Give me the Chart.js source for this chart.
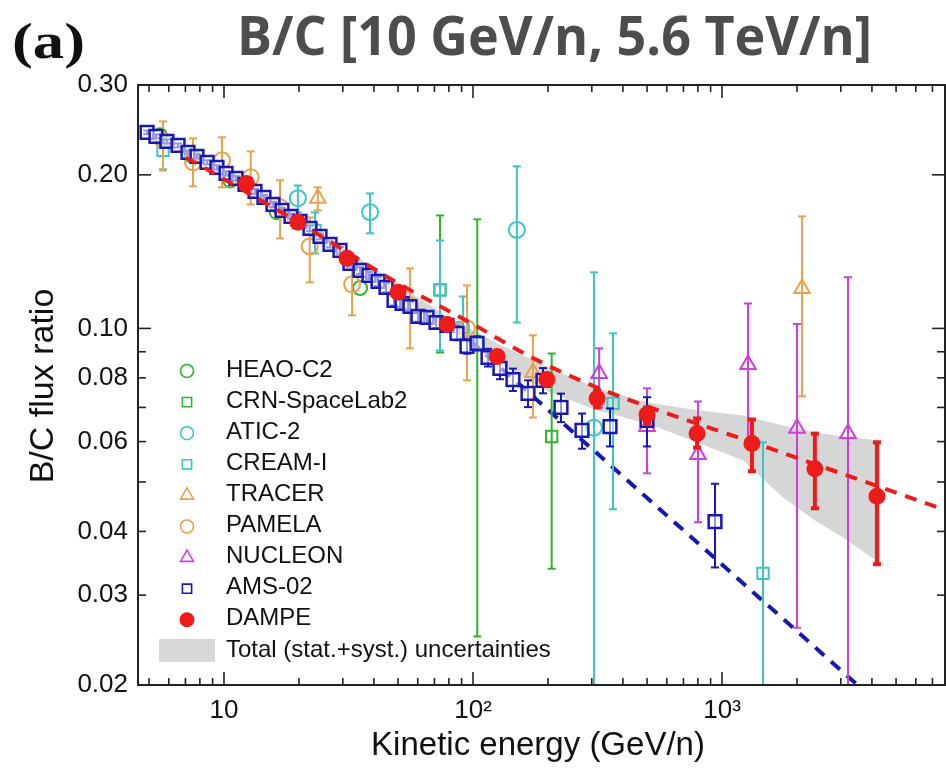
<!DOCTYPE html>
<html lang="en">
<head>
<meta charset="UTF-8" />
<title>B/C flux ratio</title>
<script src="https://cdn.jsdelivr.net/npm/chart.js"></script>
<style>
  body { margin: 0; background: #fff; }
  #wrap { width: 946px; height: 768px; position: relative; }
</style>
</head>
<body>
<div id="wrap"><canvas id="bcChart"></canvas></div>
<script>
  // ---- data (kinetic energy in GeV/n, B/C ratio) ----
  const heaoE = [5.53, 7.44, 10.6, 16.3, 35.2];
  const heaoV = [0.239, 0.218, 0.195, 0.169, 0.120];

  const crnE  = [73.7, 104, 207];
  const crnV  = [0.119, 0.0935, 0.0614];
  const crnLo = [0.0897, 0.0249, 0.0338];
  const crnHi = [0.1665, 0.1636, 0.0893];

  const aticE  = [19.8, 38.6, 150, 306];
  const aticV  = [0.180, 0.169, 0.156, 0.0639];
  const aticLo = [0.1688, 0.1536, 0.1027, 0.005];
  const aticHi = [0.1906, 0.1839, 0.2078, 0.1288];

  const creamE  = [5.69, 23.2, 73.7, 91.2, 365, 1461];
  const creamV  = [0.2234, 0.1557, 0.119, 0.1005, 0.0713, 0.0331];
  const creamLo = [0.205, 0.1403, 0.0905, 0.096, 0.0442, 0.005];
  const creamHi = [0.2335, 0.1688, 0.1487, 0.1155, 0.0978, 0.0598];

  const tracerE  = [23.8, 174, 2096];
  const tracerV  = [0.180, 0.082, 0.1198];
  const tracerLo = [0.1703, 0.0669, 0.0736];
  const tracerHi = [0.189, 0.0969, 0.1658];

  const pamelaE  = [5.69, 7.51, 9.82, 12.8, 16.8, 22.1, 32.7, 55.8, 94.6];
  const pamelaV  = [0.2336, 0.2116, 0.2135, 0.1978, 0.1727, 0.1448, 0.122, 0.111, 0.100];
  const pamelaLo = [0.204, 0.1899, 0.189, 0.175, 0.1501, 0.1231, 0.1061, 0.0914, 0.0791];
  const pamelaHi = [0.2545, 0.2358, 0.2369, 0.2224, 0.1951, 0.165, 0.1378, 0.1311, 0.1214];

  const nucleonE  = [321, 500, 801, 1272, 2001, 3206];
  const nucleonV  = [0.0816, 0.0642, 0.0566, 0.085, 0.0637, 0.0622];
  const nucleonLo = [0.070, 0.052, 0.0417, 0.0603, 0.0259, 0.005];
  const nucleonHi = [0.0914, 0.0763, 0.0719, 0.1119, 0.102, 0.126];

  const amsE = [4.91, 5.33, 5.90, 6.54, 7.17, 7.79, 8.55, 9.37, 10.19, 11.17, 12.14, 13.32,
    14.47, 15.73, 17.10, 18.58, 20.19, 22.15, 24.30, 26.65, 29.23, 32.06, 35.17, 38.22,
    41.55, 44.74, 48.17, 51.87, 55.85, 60.13, 65.36, 71.03, 78.63, 86.24, 94.60, 103.8,
    114.9, 128.3, 144.7, 166.3, 191.0, 225.6, 274.0, 355.0, 499.8, 937.4];
  const amsV = [0.2423, 0.2379, 0.2326, 0.2284, 0.2213, 0.2174, 0.2116, 0.2068, 0.2013, 0.1968,
    0.1916, 0.1856, 0.1806, 0.1750, 0.1703, 0.1658, 0.1621, 0.1571, 0.1515, 0.1461, 0.1422,
    0.1341, 0.1299, 0.1270, 0.1237, 0.1203, 0.1135, 0.1119, 0.1104, 0.1056, 0.1051, 0.1027,
    0.1014, 0.0978, 0.0922, 0.0935, 0.0877, 0.0835, 0.0794, 0.0746, 0.0791, 0.0700, 0.0631,
    0.0642, 0.0660, 0.0418];
  const amsErr = [0.002, 0.002, 0.002, 0.002, 0.002, 0.002, 0.002, 0.002, 0.002, 0.002, 0.002, 0.002,
    0.002, 0.002, 0.002, 0.002, 0.002, 0.002, 0.002, 0.002, 0.002, 0.002, 0.002, 0.002,
    0.0025, 0.0025, 0.0025, 0.0025, 0.0025, 0.0025, 0.0025, 0.0025, 0.003, 0.003, 0.003, 0.003,
    0.0035, 0.004, 0.004, 0.0045, 0.0045, 0.0045, 0.005, 0.0055, 0.0073, 0.0078];

  const dampeE  = [12.3, 19.8, 31.2, 50, 78.7, 125, 198, 315, 500, 794, 1319, 2360, 4190];
  const dampeV  = [0.1924, 0.1614, 0.1372, 0.1177, 0.1018, 0.0881, 0.0794, 0.0729, 0.0678, 0.0622, 0.0595, 0.0531, 0.0469];
  const dampeLo = [0.189, 0.159, 0.135, 0.1158, 0.100, 0.0865, 0.0775, 0.070, 0.065, 0.0584, 0.0525, 0.0444, 0.0345];
  const dampeHi = [0.196, 0.164, 0.1395, 0.1196, 0.1036, 0.0897, 0.0813, 0.0756, 0.070, 0.0666, 0.0663, 0.0622, 0.0598];

  // grey band: total (stat.+syst.) uncertainties
  const bandE  = [10.8, 19.8, 31.2, 50, 78.6, 125, 204, 315, 500, 794, 1214, 1758, 2363, 3062, 4311];
  const bandHi = [0.2059, 0.1665, 0.1422, 0.1220, 0.1056, 0.0935, 0.0835, 0.0763, 0.0716, 0.0691, 0.0675, 0.0645, 0.0625, 0.0614, 0.0603];
  const bandLo = [0.1951, 0.1585, 0.1347, 0.1155, 0.1000, 0.0858, 0.0749, 0.0691, 0.0651, 0.0598, 0.0551, 0.0466, 0.0420, 0.0389, 0.0346];

  // dashed fit lines
  const redE  = [7.04, 20.2, 50.9, 97.3, 169.4, 315, 1559, 7935];
  const redV  = [0.2164, 0.1607, 0.1220, 0.1027, 0.0881, 0.0766, 0.0582, 0.0440];
  const blueE = [97.3, 3500];
  const blueV = [0.0947, 0.0200];

  // axes
  const xTickVals = [10, 100, 1000];
  const xTickText = ['10', '10²', '10³'];
  const yTickVals = [0.02, 0.03, 0.04, 0.06, 0.08, 0.10, 0.20, 0.30];
  const yMinorVals = [0.05, 0.07, 0.09];

  const legendNames = ['HEAO-C2', 'CRN-SpaceLab2', 'ATIC-2', 'CREAM-I', 'TRACER', 'PAMELA',
    'NUCLEON', 'AMS-02', 'DAMPE', 'Total (stat.+syst.) uncertainties'];

  const sans = '"Liberation Sans", Arial, sans-serif';
  const green = '#2db52d', cyan = '#3dc3c3', orange = '#e8a24e', magenta = '#d33ddb',
        blue = '#1818b4', red = '#ee1b1b';

  const pts = (E, V) => E.map((e, i) => ({ x: e, y: V[i] }));

  function marker(label, E, V, lo, hi, color, style, r, order, extra) {
    return Object.assign({
      label, data: pts(E, V), errLo: lo, errHi: hi,
      borderColor: color, pointBorderColor: color,
      pointBackgroundColor: 'rgba(255,255,255,0)', pointStyle: style,
      pointRadius: r, pointBorderWidth: 2, showLine: false, barWidth: 2, order
    }, extra || {});
  }

  const amsLo = amsV.map((v, i) => v - amsErr[i]);
  const amsHi = amsV.map((v, i) => v + amsErr[i]);

  const datasets = [
    { label: 'band-hi', data: pts(bandE, bandHi), showLine: true, pointRadius: 0, borderWidth: 0,
      backgroundColor: 'rgba(196,196,196,0.7)', fill: '+1', order: 30 },
    { label: 'band-lo', data: pts(bandE, bandLo), showLine: true, pointRadius: 0, borderWidth: 0, fill: false, order: 30 },
    { label: 'blue-fit', data: pts(blueE, blueV), showLine: true, pointRadius: 0, borderColor: blue,
      borderWidth: 4, borderDash: [12, 9], fill: false, order: 25 },
    marker('HEAO-C2', heaoE, heaoV, null, null, green, 'circle', 7, 12),
    marker('CRN-SpaceLab2', crnE, crnV, crnLo, crnHi, green, 'rect', 8, 12),
    marker('ATIC-2', aticE, aticV, aticLo, aticHi, cyan, 'circle', 8, 11),
    marker('CREAM-I', creamE, creamV, creamLo, creamHi, cyan, 'rect', 8, 11),
    marker('TRACER', tracerE, tracerV, tracerLo, tracerHi, orange, 'triangle', 9, 10),
    marker('PAMELA', pamelaE, pamelaV, pamelaLo, pamelaHi, orange, 'circle', 8, 10),
    marker('NUCLEON', nucleonE, nucleonV, nucleonLo, nucleonHi, magenta, 'triangle', 9, 9),
    marker('AMS-02', amsE, amsV, amsLo, amsHi, blue, 'rect', 9, 6,
      { pointBackgroundColor: 'rgba(255,255,255,0.55)', pointBorderWidth: 2.5 }),
    { label: 'red-fit', data: pts(redE, redV), showLine: true, pointRadius: 0, borderColor: red,
      borderWidth: 4, borderDash: [12, 9], fill: false, cubicInterpolationMode: 'monotone', order: 4 },
    marker('DAMPE', dampeE, dampeV, dampeLo, dampeHi, red, 'circle', 8.5, 1,
      { pointBackgroundColor: red, pointBorderWidth: 0, barWidth: 4 })
  ];

  function line(ctx, x1, y1, x2, y2) {
    ctx.beginPath(); ctx.moveTo(x1, y1); ctx.lineTo(x2, y2); ctx.stroke();
  }

  function drawBars(chart, ds) {
    const { ctx, chartArea: a, scales: { x, y } } = chart;
    ctx.save();
    ctx.beginPath();
    ctx.rect(a.left, a.top, a.right - a.left, a.bottom - a.top);
    ctx.clip();
    ctx.strokeStyle = ds.borderColor;
    ctx.lineWidth = ds.barWidth;
    const cap = 4;
    ds.data.forEach((p, i) => {
      const px = x.getPixelForValue(p.x);
      const top = y.getPixelForValue(ds.errHi[i]);
      const bot = y.getPixelForValue(ds.errLo[i]);
      line(ctx, px, top, px, bot);
      line(ctx, px - cap, top, px + cap, top);
      line(ctx, px - cap, bot, px + cap, bot);
    });
    ctx.restore();
  }

  // draws text squeezed/stretched to a given width, starting at x
  function fitText(ctx, text, font, x, y, width, color) {
    ctx.save();
    ctx.font = font;
    ctx.fillStyle = color;
    ctx.textAlign = 'left';
    ctx.textBaseline = 'alphabetic';
    const w = ctx.measureText(text).width;
    ctx.translate(x, y);
    ctx.scale(width / w, 1);
    ctx.fillText(text, 0, 0);
    ctx.restore();
  }

  const decor = {
    id: 'decor',
    beforeDatasetDraw(chart, args) {
      const ds = chart.data.datasets[args.index];
      if (ds.errLo) drawBars(chart, ds);
    },
    afterDraw(chart) {
      const { ctx, chartArea: a, scales: { x, y } } = chart;
      ctx.save();

      // frame
      ctx.strokeStyle = '#222';
      ctx.lineWidth = 2;
      ctx.strokeRect(a.left, a.top, a.right - a.left - 1, a.bottom - a.top);

      // inward ticks
      ctx.lineWidth = 1.6;
      const xMinor = [];
      [1, 10, 100, 1000].forEach(d => { for (let m = 2; m <= 9; m++) xMinor.push(m * d); });
      xMinor.filter(v => v > x.min && v < x.max).forEach(v => {
        const px = x.getPixelForValue(v);
        line(ctx, px, a.bottom, px, a.bottom - 7);
        line(ctx, px, a.top, px, a.top + 7);
      });
      xTickVals.forEach(v => {
        const px = x.getPixelForValue(v);
        line(ctx, px, a.bottom, px, a.bottom - 13);
        line(ctx, px, a.top, px, a.top + 13);
      });
      yTickVals.concat(yMinorVals).forEach(v => {
        const py = y.getPixelForValue(v);
        const len = (v === 0.1 || v === 0.2) ? 13 : 8;
        line(ctx, a.left, py, a.left + len, py);
        line(ctx, a.right - 1, py, a.right - 1 - len, py);
      });

      // legend
      const styles = [
        [green, 'circle', false], [green, 'rect', false], [cyan, 'circle', false], [cyan, 'rect', false],
        [orange, 'triangle', false], [orange, 'circle', false], [magenta, 'triangle', false],
        [blue, 'rect', false], [red, 'circle', true]
      ];
      ctx.font = '24px ' + sans;
      ctx.textBaseline = 'middle';
      ctx.textAlign = 'left';
      legendNames.forEach((name, i) => {
        const cy = 370 + i * 31.1;
        if (i < styles.length) {
          const [c, st, filled] = styles[i];
          ctx.strokeStyle = c;
          ctx.fillStyle = filled ? c : 'rgba(255,255,255,0)';
          Chart.helpers.drawPoint(ctx, {
            pointStyle: st, rotation: 0, borderWidth: filled ? 0 : 2,
            radius: filled ? 7.5 : (st === 'triangle' ? 7.5 : 6.5)
          }, 187, cy + 1);
        } else {
          ctx.fillStyle = '#d8d8d8';
          ctx.fillRect(159, cy - 11, 56, 23);
        }
        ctx.fillStyle = '#111';
        ctx.fillText(name, 226, cy);
      });

      // axis titles
      ctx.fillStyle = '#111';
      ctx.textAlign = 'center';
      ctx.font = '33px ' + sans;
      ctx.fillText('Kinetic energy (GeV/n)', 538, 746);
      ctx.save();
      ctx.translate(44, 386);
      ctx.rotate(-Math.PI / 2);
      ctx.font = '34px ' + sans;
      ctx.fillText('B/C flux ratio', 0, 0);
      ctx.restore();

      // panel label and title
      fitText(ctx, '(a)', 'bold 50px "Liberation Serif", serif', 12, 58, 73, '#111');
      fitText(ctx, 'B/C [10 GeV/n, 5.6 TeV/n]', 'bold 54px "Open Sans", sans-serif', 237, 55, 635, '#4d4d4d');

      ctx.restore();
    }
  };

  new Chart(document.getElementById('bcChart'), {
    type: 'scatter',
    data: { datasets },
    options: {
      responsive: true,
      maintainAspectRatio: false,
      animation: false,
      layout: { autoPadding: false, padding: { top: 85, left: 0, right: 0, bottom: 0 } },
      plugins: { legend: { display: false }, tooltip: { enabled: false } },
      scales: {
        x: {
          type: 'logarithmic', min: 4.515, max: 7935,
          grid: { display: false, drawTicks: false }, border: { display: false },
          afterBuildTicks: s => { s.ticks = xTickVals.map(v => ({ value: v })); },
          afterFit: s => { s.height = 83; },
          ticks: {
            autoSkip: false, maxRotation: 0, padding: 10, color: '#111',
            font: { family: sans, size: 26 },
            callback: v => xTickText[xTickVals.indexOf(v)]
          }
        },
        y: {
          type: 'logarithmic', min: 0.02, max: 0.30,
          grid: { display: false, drawTicks: false }, border: { display: false },
          afterBuildTicks: s => { s.ticks = yTickVals.map(v => ({ value: v })); },
          afterFit: s => { s.width = 138; },
          ticks: {
            autoSkip: false, padding: 10, color: '#111',
            font: { family: sans, size: 26 },
            callback: v => v.toFixed(2)
          }
        }
      }
    },
    plugins: [decor]
  });
</script>
</body>
</html>
